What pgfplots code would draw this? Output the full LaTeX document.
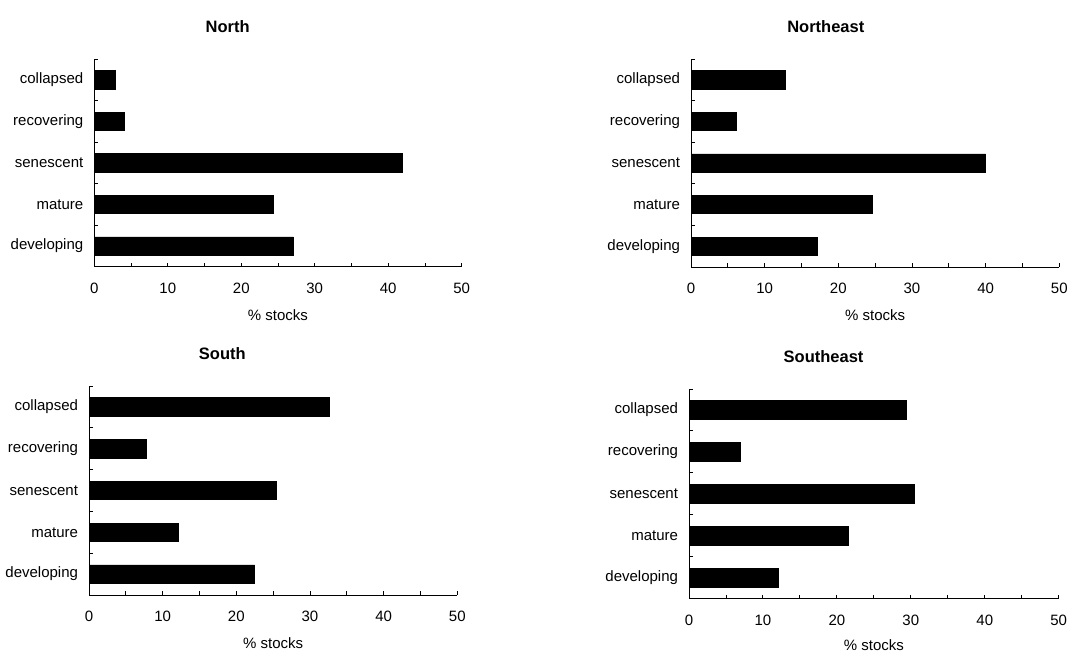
\documentclass[border=0pt]{standalone}
\usepackage{pgfplots}
\pgfplotsset{compat=1.18}
\usepackage{fontspec}
\setmainfont{Liberation Sans}
\pgfplotsset{
  panel/.style={
    scale only axis, width=368bp, height=208bp,
    xbar, bar width=0.44,
    xmin=0, xmax=50, ymin=-0.5, ymax=4.5,
    axis x line*=bottom, axis y line*=left,
    axis line style={line width=0.9bp, black},
    every tick/.style={line width=0.9bp, black},
    tick align=inside,
    major tick length=3.8bp, minor tick length=3.8bp,
    xtick={0,10,...,50}, minor xtick={5,15,...,45},
    ytick={-0.5,0.5,...,4.5}, yticklabels={},
    extra y ticks={0,1,2,3,4},
    extra y tick labels={developing,mature,senescent,recovering,collapsed},
    extra y tick style={major tick length=0pt, yticklabel style={xshift=-7.5bp}},
    /pgf/number format/assume math mode=true,
    tick label style={font=\fontsize{15bp}{18bp}\selectfont},
    xticklabel style={yshift=-13bp},
    xlabel={\% stocks},
    xlabel style={at={(axis description cs:0.5,0)}, anchor=north, yshift=-39.5bp, font=\fontsize{15bp}{18bp}\selectfont},
    title style={anchor=base, yshift=20.5bp, font=\bfseries\fontsize{16.5bp}{19bp}\selectfont},
  },
  bars/.style={fill=black, draw=black, line width=0.5bp}
}
\begin{document}
\begin{tikzpicture}
\path[use as bounding box] (0,0) rectangle (1068bp,652bp);
% North
\begin{axis}[panel, at={(94.3bp,385.3bp)}, width=367.4bp, height=207.7bp,
  title={North}, title style={at={(axis description cs:0.363,1)}}]
\addplot[bars] coordinates {(27.1,0) (24.4,1) (41.9,2) (4.1,3) (2.8,4)};
\end{axis}
% Northeast
\begin{axis}[panel, at={(691bp,385bp)}, width=368.3bp, height=208bp,
  title={Northeast}, title style={at={(axis description cs:0.366,1)}}]
\addplot[bars] coordinates {(17.1,0) (24.6,1) (40.0,2) (6.1,3) (12.8,4)};
\end{axis}
% South
\begin{axis}[panel, at={(89bp,57bp)}, width=368.3bp, height=209bp,
  title={South}, title style={at={(axis description cs:0.362,1)}}]
\addplot[bars] coordinates {(22.5,0) (12.1,1) (25.4,2) (7.8,3) (32.6,4)};
\end{axis}
% Southeast
\begin{axis}[panel, at={(689bp,53.3bp)}, width=369.7bp, height=209.7bp,
  title={Southeast}, title style={at={(axis description cs:0.364,1)}},
  xlabel style={yshift=2.5bp}]
\addplot[bars] coordinates {(12.1,0) (21.6,1) (30.4,2) (6.9,3) (29.4,4)};
\end{axis}
\end{tikzpicture}
\end{document}
